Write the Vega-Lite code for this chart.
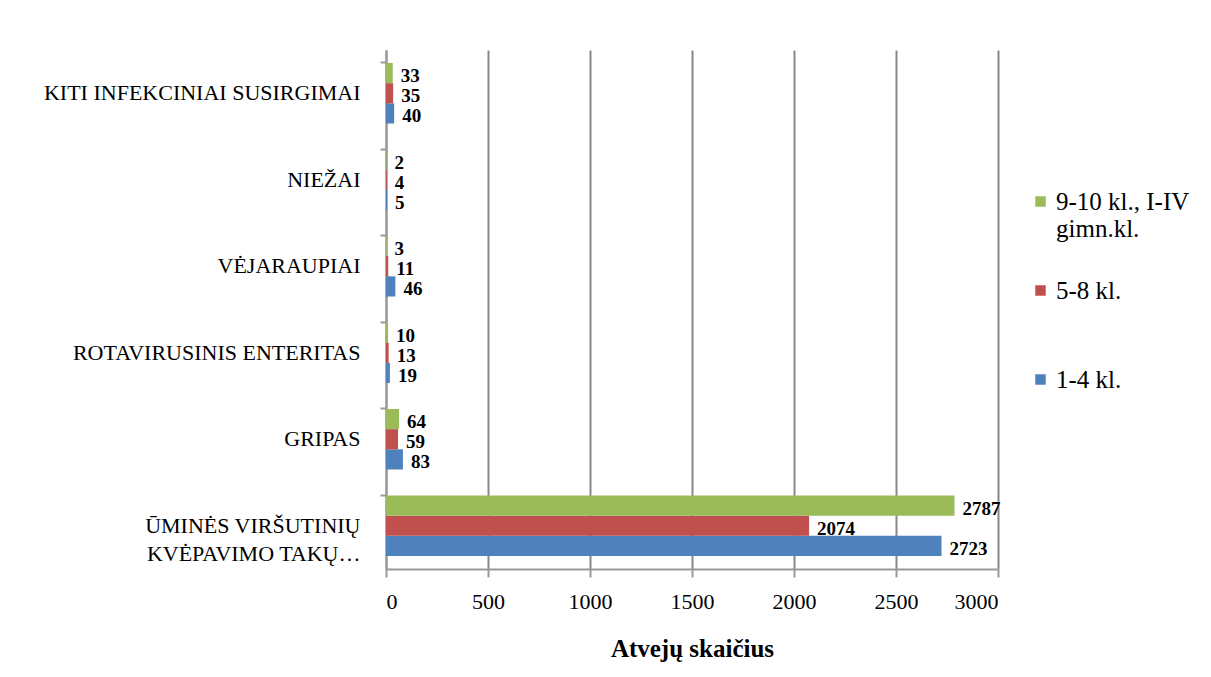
{
  "$schema": "https://vega.github.io/schema/vega-lite/v6.json",
  "width": 612,
  "height": 519,
  "autosize": {"type": "none"},
  "padding": {"left": 386, "top": 50, "right": 213, "bottom": 108},
  "background": "white",
  "config": {
    "font": "Liberation Serif",
    "view": {"stroke": null},
    "axis": {"labelFont": "Liberation Serif", "titleFont": "Liberation Serif", "labelColor": "black", "titleColor": "black"},
    "legend": {"labelFont": "Liberation Serif", "labelFontSize": 25, "labelColor": "black"}
  },
  "data": {
    "values": [
      {"liga": "KITI INFEKCINIAI SUSIRGIMAI", "grupe": "1-4 kl.", "n": 40},
      {"liga": "KITI INFEKCINIAI SUSIRGIMAI", "grupe": "5-8 kl.", "n": 35},
      {"liga": "KITI INFEKCINIAI SUSIRGIMAI", "grupe": "9-10 kl., I-IV gimn.kl.", "n": 33},
      {"liga": "NIEŽAI", "grupe": "1-4 kl.", "n": 5},
      {"liga": "NIEŽAI", "grupe": "5-8 kl.", "n": 4},
      {"liga": "NIEŽAI", "grupe": "9-10 kl., I-IV gimn.kl.", "n": 2},
      {"liga": "VĖJARAUPIAI", "grupe": "1-4 kl.", "n": 46},
      {"liga": "VĖJARAUPIAI", "grupe": "5-8 kl.", "n": 11},
      {"liga": "VĖJARAUPIAI", "grupe": "9-10 kl., I-IV gimn.kl.", "n": 3},
      {"liga": "ROTAVIRUSINIS ENTERITAS", "grupe": "1-4 kl.", "n": 19},
      {"liga": "ROTAVIRUSINIS ENTERITAS", "grupe": "5-8 kl.", "n": 13},
      {"liga": "ROTAVIRUSINIS ENTERITAS", "grupe": "9-10 kl., I-IV gimn.kl.", "n": 10},
      {"liga": "GRIPAS", "grupe": "1-4 kl.", "n": 83},
      {"liga": "GRIPAS", "grupe": "5-8 kl.", "n": 59},
      {"liga": "GRIPAS", "grupe": "9-10 kl., I-IV gimn.kl.", "n": 64},
      {"liga": "ŪMINĖS VIRŠUTINIŲ KVĖPAVIMO TAKŲ…", "grupe": "1-4 kl.", "n": 2723},
      {"liga": "ŪMINĖS VIRŠUTINIŲ KVĖPAVIMO TAKŲ…", "grupe": "5-8 kl.", "n": 2074},
      {"liga": "ŪMINĖS VIRŠUTINIŲ KVĖPAVIMO TAKŲ…", "grupe": "9-10 kl., I-IV gimn.kl.", "n": 2787}
    ]
  },
  "encoding": {
    "y": {
      "field": "liga",
      "type": "nominal",
      "sort": ["KITI INFEKCINIAI SUSIRGIMAI", "NIEŽAI", "VĖJARAUPIAI", "ROTAVIRUSINIS ENTERITAS", "GRIPAS", "ŪMINĖS VIRŠUTINIŲ KVĖPAVIMO TAKŲ…"],
      "scale": {"paddingInner": 0.3, "paddingOuter": 0.15},
      "axis": {
        "title": null,
        "labelFontSize": 22,
        "labelLimit": 400,
        "labelPadding": 20,
        "tickSize": 6,
        "tickColor": "#999999",
        "domainColor": "#999999",
        "domainWidth": 2,
        "tickWidth": 2,
        "bandPosition": 0,
        "labelExpr": "datum.label == 'ŪMINĖS VIRŠUTINIŲ KVĖPAVIMO TAKŲ…' ? ['ŪMINĖS VIRŠUTINIŲ', 'KVĖPAVIMO TAKŲ…'] : datum.label",
        "labelLineHeight": 28
      }
    },
    "yOffset": {
      "field": "grupe",
      "type": "nominal",
      "sort": ["9-10 kl., I-IV gimn.kl.", "5-8 kl.", "1-4 kl."]
    },
    "x": {
      "field": "n",
      "type": "quantitative",
      "scale": {"domain": [0, 3000]},
      "axis": {
        "title": "Atvejų skaičius",
        "titleFontSize": 25,
        "titleFontWeight": "bold",
        "titlePadding": 24,
        "labelFontSize": 22,
        "labelPadding": 14,
        "labelOverlap": false,
        "format": "d",
        "values": [0, 500, 1000, 1500, 2000, 2500, 3000],
        "grid": true,
        "gridColor": "#888888",
        "gridWidth": 2,
        "tickSize": 8,
        "tickWidth": 2,
        "tickColor": "#999999",
        "domainColor": "#999999",
        "domainWidth": 2
      }
    }
  },
  "layer": [
    {
      "mark": {"type": "bar", "stroke": null},
      "encoding": {
        "color": {
          "field": "grupe",
          "type": "nominal",
          "sort": ["9-10 kl., I-IV gimn.kl.", "5-8 kl.", "1-4 kl."],
          "scale": {"domain": ["9-10 kl., I-IV gimn.kl.", "5-8 kl.", "1-4 kl."], "range": ["#9BBB59", "#C0504D", "#4F81BD"]},
          "legend": {
            "title": null,
            "orient": "none",
            "legendX": 642,
            "legendY": 139,
            "symbolType": "square",
            "symbolSize": 110,
            "symbolStrokeWidth": 0,
            "labelFont": "Liberation Serif",
            "labelFontSize": 25,
            "labelColor": "black",
            "labelLimit": 300,
            "labelOffset": 3,
            "gridAlign": "all",
            "rowPadding": 36,
            "labelExpr": "datum.label == '9-10 kl., I-IV gimn.kl.' ? ['9-10 kl., I-IV', 'gimn.kl.'] : datum.label"
          }
        }
      }
    },
    {
      "mark": {"type": "text", "align": "left", "baseline": "middle", "dx": 8, "dy": 3, "fontSize": 19, "fontWeight": "bold", "font": "Liberation Serif", "color": "black"},
      "encoding": {"text": {"field": "n", "type": "quantitative"}}
    }
  ]
}
